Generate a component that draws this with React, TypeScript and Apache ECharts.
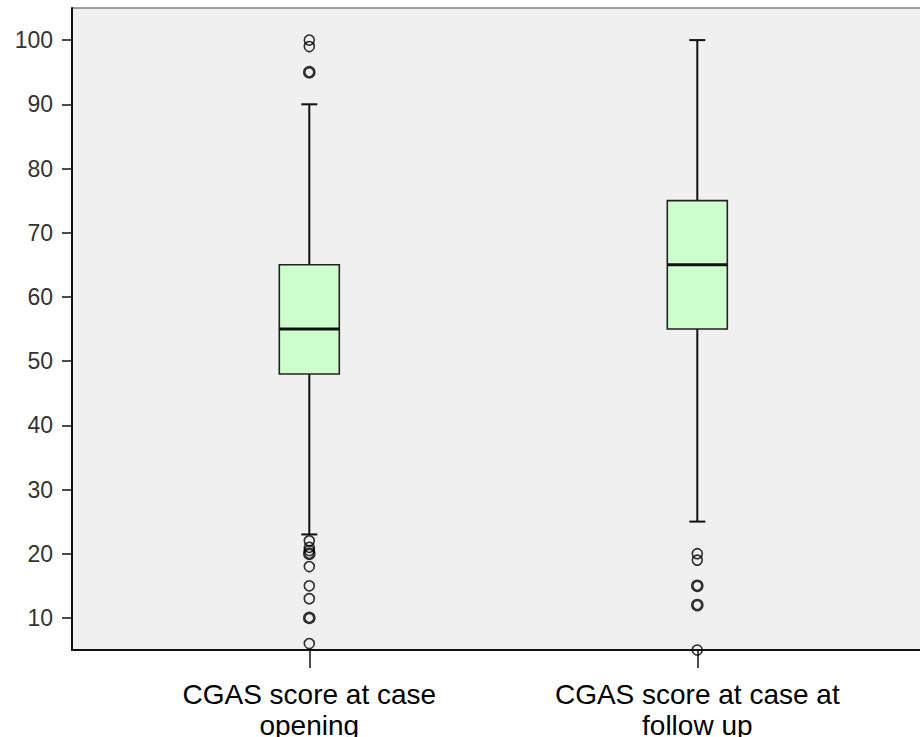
import React, { useEffect, useRef } from "react";
import * as echarts from "echarts";

const categories = ["CGAS score at case\nopening", "CGAS score at case at\nfollow up"];
const whiskerLow = [23, 25];
const q1 = [48, 55];
const median = [55, 65];
const q3 = [65, 75];
const whiskerHigh = [90, 100];
const outliersOpening = [100, 99, 22, 21, 20.5, 18, 15, 13, 6];
const outliersOpeningBold = [95, 20, 10];
const outliersFollowUp = [20, 19, 5];
const outliersFollowUpBold = [15, 12];
const yTicks = [10, 20, 30, 40, 50, 60, 70, 80, 90, 100];
const yMin = 5;
const yMax = 105;

const FONT = "'Liberation Sans', Arial, sans-serif";

export default function App() {
  const ref = useRef<HTMLDivElement>(null);
  useEffect(() => {
    if (!ref.current) return;
    const chart = echarts.init(ref.current, null, { renderer: "svg" });
    const boxData = categories.map((_, i) => [i, whiskerLow[i], q1[i], median[i], q3[i], whiskerHigh[i]]);
    const toPts = (arr: number[], idx: number) => arr.map((v) => [idx, v]);
    const halfBox = 30;
    const halfCap = 8;
    const outlierStyle = (w: number) => ({
      color: "rgba(0,0,0,0)",
      borderColor: "#000",
      borderWidth: w,
    });
    chart.setOption({
      animation: false,
      grid: [
        {
          left: 72, right: -4, top: 8, bottom: 87,
          show: true, backgroundColor: "#f0f0f0", borderColor: "#444", borderWidth: 1,
          outerBoundsMode: "none", containLabel: false,
        },
        {
          left: 115.3, right: 28.7, top: 8, bottom: 87,
          outerBoundsMode: "none", containLabel: false,
        },
      ],
      xAxis: [
        {
          gridIndex: 0, type: "value", min: 0, max: 1,
          axisLine: { show: true, lineStyle: { color: "#111", width: 2 } },
          axisTick: { show: false }, axisLabel: { show: false }, splitLine: { show: false },
        },
        {
          gridIndex: 1, type: "category", data: categories,
          axisLine: { show: false },
          axisTick: { show: true, alignWithLabel: true, length: 18, lineStyle: { color: "#111", width: 1.5 } },
          axisLabel: { color: "#000", fontSize: 28, lineHeight: 31, fontFamily: FONT, margin: 29, interval: 0 },
          splitLine: { show: false },
        },
      ],
      yAxis: [
        {
          gridIndex: 0, type: "value", min: yMin, max: yMax,
          axisLine: { show: true, lineStyle: { color: "#111", width: 2 } },
          axisTick: { show: true, length: 10, customValues: yTicks, lineStyle: { color: "#111", width: 1.5 } },
          axisLabel: { color: "#333", fontSize: 23, fontFamily: FONT, margin: 19, customValues: yTicks },
          splitLine: { show: false },
        },
        {
          gridIndex: 1, type: "value", min: yMin, max: yMax, show: false,
        },
      ],
      series: [
        {
          type: "custom",
          xAxisIndex: 1, yAxisIndex: 1,
          data: boxData,
          encode: { x: 0, y: [1, 2, 3, 4, 5] },
          renderItem: (params: any, api: any) => {
            const idx = api.value(0);
            const pLow = api.coord([idx, api.value(1)]);
            const pQ1 = api.coord([idx, api.value(2)]);
            const pMed = api.coord([idx, api.value(3)]);
            const pQ3 = api.coord([idx, api.value(4)]);
            const pHigh = api.coord([idx, api.value(5)]);
            const cx = pMed[0];
            const lineStyle = { stroke: "#111", lineWidth: 2 };
            return {
              type: "group",
              children: [
                { type: "line", shape: { x1: cx, y1: pLow[1], x2: cx, y2: pQ1[1] }, style: lineStyle },
                { type: "line", shape: { x1: cx, y1: pQ3[1], x2: cx, y2: pHigh[1] }, style: lineStyle },
                { type: "line", shape: { x1: cx - halfCap, y1: pLow[1], x2: cx + halfCap, y2: pLow[1] }, style: lineStyle },
                { type: "line", shape: { x1: cx - halfCap, y1: pHigh[1], x2: cx + halfCap, y2: pHigh[1] }, style: lineStyle },
                {
                  type: "rect",
                  shape: { x: cx - halfBox, y: pQ3[1], width: halfBox * 2, height: pQ1[1] - pQ3[1] },
                  style: { fill: "#ccffcc", stroke: "#222", lineWidth: 1.6 },
                },
                { type: "line", shape: { x1: cx - halfBox, y1: pMed[1], x2: cx + halfBox, y2: pMed[1] }, style: { stroke: "#111", lineWidth: 3 } },
              ],
            };
          },
          z: 2,
        },
        {
          type: "scatter", xAxisIndex: 1, yAxisIndex: 1,
          symbol: "circle", symbolSize: 10,
          data: [...toPts(outliersOpening, 0), ...toPts(outliersFollowUp, 1)],
          itemStyle: outlierStyle(1.6),
          z: 3,
        },
        {
          type: "scatter", xAxisIndex: 1, yAxisIndex: 1,
          symbol: "circle", symbolSize: 10,
          data: [...toPts(outliersOpeningBold, 0), ...toPts(outliersFollowUpBold, 1)],
          itemStyle: outlierStyle(2.6),
          z: 3,
        },
      ],
    });
    return () => chart.dispose();
  }, []);
  return (
    <div
      ref={ref}
      style={{ position: "absolute", left: 0, top: 0, width: 920, height: 737, background: "#fff" }}
    />
  );
}
